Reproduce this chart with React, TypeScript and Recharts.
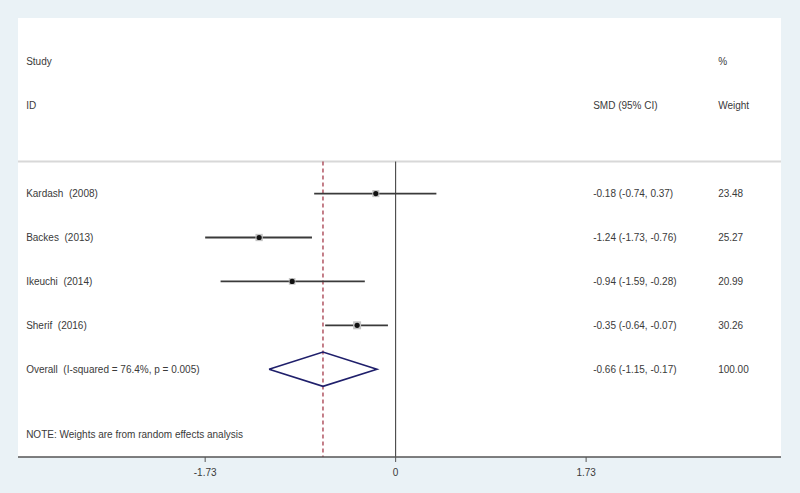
import React from "react"
import {
  ComposedChart,
  Scatter,
  XAxis,
  YAxis,
  ReferenceLine,
  CartesianGrid,
} from "recharts"

const studyNames = ["Kardash  (2008)", "Backes  (2013)", "Ikeuchi  (2014)", "Sherif  (2016)"]
const smd = [-0.18, -1.24, -0.94, -0.35]
const ciLow = [-0.74, -1.73, -1.59, -0.64]
const ciHigh = [0.37, -0.76, -0.28, -0.07]
const weights = [23.48, 25.27, 20.99, 30.26]

const overallLabel = "Overall  (I-squared = 76.4%, p = 0.005)"
const overall = { smd: -0.66, lo: -1.15, hi: -0.17, weight: 100.0 }
const noteText = "NOTE: Weights are from random effects analysis"
const xTicks = [-1.73, 0, 1.73]

// rows (y units, top = 0)
const studyRows = [4, 5, 6, 7]
const overallRow = 8
const headerTop = 1
const headerBottom = 2
const noteRow = 9.48
const sepRow = 3.27

// text columns in x units
const colLabel = -3.356
const colSmd = 1.794
const colWeight = 2.929

const TEXT = "#3a3a3a"
const FONT = "'Liberation Sans', Arial, sans-serif"

const fmt = (v: number) => v.toFixed(2)

const textRows = [
  { x: colLabel, y: headerTop, t: "Study" },
  { x: colWeight, y: headerTop, t: "%" },
  { x: colLabel, y: headerBottom, t: "ID" },
  { x: colSmd, y: headerBottom, t: "SMD (95% CI)" },
  { x: colWeight, y: headerBottom, t: "Weight" },
  ...studyNames.flatMap((n, i) => [
    { x: colLabel, y: studyRows[i], t: n },
    { x: colSmd, y: studyRows[i], t: `${fmt(smd[i])} (${fmt(ciLow[i])}, ${fmt(ciHigh[i])})` },
    { x: colWeight, y: studyRows[i], t: fmt(weights[i]) },
  ]),
  { x: colLabel, y: overallRow, t: overallLabel },
  { x: colSmd, y: overallRow, t: `${fmt(overall.smd)} (${fmt(overall.lo)}, ${fmt(overall.hi)})` },
  { x: colWeight, y: overallRow, t: fmt(overall.weight) },
  { x: colLabel, y: noteRow, t: noteText },
]

const pointData = studyNames.map((n, i) => ({ x: smd[i], y: studyRows[i], w: weights[i] }))

const diamondHalf = 0.39
const diamondData = [
  { x: overall.lo, y: overallRow },
  { x: overall.smd, y: overallRow - diamondHalf },
  { x: overall.hi, y: overallRow },
  { x: overall.smd, y: overallRow + diamondHalf },
  { x: overall.lo, y: overallRow },
]

const TextShape = (props: any) => (
  <text
    x={props.cx}
    y={props.cy}
    fill={TEXT}
    fontSize={10}
    fontFamily={FONT}
    dominantBaseline="central"
    style={{ whiteSpace: "pre" }}
  >
    {props.payload.t}
  </text>
)

const PointShape = (props: any) => {
  const s = Math.sqrt(props.payload.w) * 1.45
  return (
    <g>
      <rect x={props.cx - s / 2} y={props.cy - s / 2} width={s} height={s} fill="#c4c4c4" />
      <circle cx={props.cx} cy={props.cy} r={2.6} fill="#111" />
    </g>
  )
}

export default function App() {
  return (
    <div>
      <style>{"body{margin:0}"}</style>
      <ComposedChart
        width={800}
        height={493}
        margin={{ top: 18, right: 19, bottom: 6, left: 18 }}
        style={{ background: "#eaf2f6" }}
      >
        <CartesianGrid horizontal={false} vertical={false} fill="#ffffff" />
        <XAxis
          type="number"
          dataKey="x"
          domain={[-3.43, 3.5]}
          ticks={xTicks}
          height={30}
          allowDataOverflow
          axisLine={{ stroke: "#555", strokeWidth: 1.5 }}
          tickLine={{ stroke: "#555" }}
          tickSize={5}
          tick={{ fill: TEXT, fontSize: 10, fontFamily: FONT, dy: 5 }}
          tickFormatter={(v: number) => (v === 0 ? "0" : v.toFixed(2))}
        />
        <YAxis type="number" dataKey="y" domain={[0, 10]} reversed hide allowDataOverflow />

        <ReferenceLine y={sepRow} stroke="#d8d8d8" strokeWidth={2} />
        <ReferenceLine
          segment={[{ x: 0, y: sepRow }, { x: 0, y: 10 }]}
          stroke="#333"
          strokeWidth={1}
        />
        <ReferenceLine
          segment={[{ x: overall.smd, y: sepRow }, { x: overall.smd, y: 10 }]}
          stroke="#9e2a3c"
          strokeDasharray="4 3"
          strokeWidth={1.2}
        />
        {studyNames.map((n, i) => (
          <ReferenceLine
            key={n}
            segment={[{ x: ciLow[i], y: studyRows[i] }, { x: ciHigh[i], y: studyRows[i] }]}
            stroke="#3a3a3a"
            strokeWidth={1.8}
          />
        ))}

        <Scatter data={pointData} shape={<PointShape />} isAnimationActive={false} />
        <Scatter
          data={diamondData}
          line={{ stroke: "#1f1f6b", strokeWidth: 1.6 }}
          lineType="joint"
          shape={() => <g />}
          isAnimationActive={false}
        />
        <Scatter data={textRows} shape={<TextShape />} isAnimationActive={false} />
      </ComposedChart>
    </div>
  )
}
